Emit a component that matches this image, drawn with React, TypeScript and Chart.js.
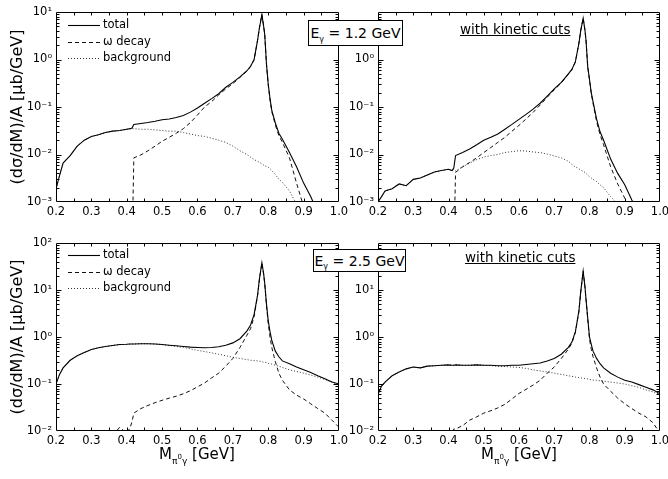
import React, { useEffect, useRef } from "react";
import { Chart, registerables } from "chart.js";

Chart.register(...registerables);

const FONT = "'DejaVu Sans', Verdana, sans-serif";

// invariant mass grid [GeV]
const massGeV = [
  0.2, 0.21, 0.22, 0.24, 0.26, 0.28, 0.3, 0.32, 0.34, 0.36, 0.38, 0.4, 0.41, 0.415, 0.42, 0.44, 0.46, 0.48,
  0.5, 0.52, 0.54, 0.56, 0.58, 0.6, 0.62, 0.64, 0.66, 0.68, 0.7, 0.72, 0.74, 0.75, 0.76, 0.77, 0.775, 0.782,
  0.787, 0.79, 0.795, 0.8, 0.805, 0.81, 0.82, 0.83, 0.84, 0.86, 0.88, 0.9, 0.92, 0.94, 0.96, 0.98, 1.0,
];

// E = 1.2 GeV, no cuts
const total12 = [
  0.0019, 0.0036, 0.0066, 0.0095, 0.015, 0.02, 0.024, 0.026, 0.029, 0.031, 0.032, 0.034, 0.035, 0.036, 0.043, 0.045, 0.047, 0.05,
  0.054, 0.056, 0.06, 0.066, 0.078, 0.095, 0.12, 0.15, 0.19, 0.26, 0.33, 0.43, 0.58, 0.72, 1.0, 2.6, 4.6, 8.8,
  5.0, 3.4, 0.8, 0.3, 0.15, 0.085, 0.046, 0.028, 0.021, 0.011, 0.0055, 0.0025, 0.0013, 0.0006, 0.0003, 0.0002, 0.0001,
];
const omega12 = [
  null, null, null, null, null, null, null, null, null, null, null, null, null, 0.0001, 0.0085, 0.0098, 0.012, 0.015,
  0.019, 0.023, 0.028, 0.035, 0.047, 0.068, 0.1, 0.13, 0.18, 0.24, 0.31, 0.42, 0.57, 0.71, 0.99, 2.6, 4.6, 8.8,
  5.0, 3.4, 0.79, 0.29, 0.14, 0.08, 0.042, 0.025, 0.018, 0.0085, 0.0025, 0.0008, 0.0004, 0.0002, 0.0001, 0.0001, 0.0001,
];
const background12 = [
  0.0019, 0.0036, 0.0066, 0.0095, 0.015, 0.02, 0.024, 0.026, 0.029, 0.031, 0.032, 0.034, 0.035, 0.035, 0.035, 0.034, 0.034, 0.033,
  0.032, 0.031, 0.031, 0.029, 0.027, 0.025, 0.024, 0.022, 0.02, 0.018, 0.015, 0.012, 0.01, 0.0088, 0.0078, 0.0072, 0.0068, 0.0064,
  0.006, 0.0058, 0.0056, 0.0054, 0.005, 0.0046, 0.0038, 0.003, 0.0026, 0.0017, 0.0009, 0.0006, 0.0004, 0.0003, 0.0002, 0.0001, 0.0001,
];

// E = 1.2 GeV, with kinetic cuts
const total12cut = [
  0.001, 0.0013, 0.0017, 0.0019, 0.0024, 0.0022, 0.003, 0.0032, 0.0037, 0.0043, 0.0046, 0.0049, 0.0046, 0.0052, 0.0095, 0.011, 0.013, 0.016,
  0.02, 0.023, 0.027, 0.034, 0.043, 0.055, 0.07, 0.09, 0.12, 0.17, 0.24, 0.33, 0.5, 0.62, 0.9, 2.2, 4.0, 7.4,
  4.2, 2.6, 0.7, 0.38, 0.2, 0.13, 0.056, 0.03, 0.02, 0.008, 0.004, 0.0023, 0.0011, 0.0006, 0.0003, 0.0002, 0.0001,
];
const omega12cut = [
  null, null, null, null, null, null, null, null, null, null, null, null, null, 0.0001, 0.0042, 0.0055, 0.0068, 0.0085,
  0.011, 0.014, 0.018, 0.023, 0.031, 0.041, 0.056, 0.077, 0.11, 0.16, 0.23, 0.32, 0.49, 0.61, 0.89, 2.2, 4.0, 7.4,
  4.2, 2.6, 0.69, 0.37, 0.19, 0.12, 0.05, 0.026, 0.016, 0.0055, 0.0024, 0.0012, 0.0005, 0.0002, 0.0001, 0.0001, 0.0001,
];
const background12cut = [
  0.001, 0.0013, 0.0017, 0.0019, 0.0024, 0.0022, 0.003, 0.0032, 0.0037, 0.0043, 0.0046, 0.0049, 0.0046, 0.0048, 0.0045, 0.0055, 0.0066, 0.0078,
  0.0088, 0.0095, 0.01, 0.011, 0.0115, 0.012, 0.0118, 0.0113, 0.011, 0.0102, 0.0093, 0.0085, 0.0072, 0.0062, 0.0055, 0.005, 0.0047, 0.0044,
  0.0042, 0.004, 0.0037, 0.0034, 0.0032, 0.003, 0.0027, 0.0023, 0.002, 0.0013, 0.0009, 0.0006, 0.0004, 0.0002, 0.0001, 0.0001, 0.0001,
];

// E = 2.5 GeV, no cuts
const total25 = [
  0.1, 0.16, 0.22, 0.32, 0.4, 0.47, 0.54, 0.59, 0.63, 0.66, 0.69, 0.7, 0.71, 0.71, 0.71, 0.72, 0.72, 0.71,
  0.69, 0.67, 0.65, 0.63, 0.61, 0.6, 0.59, 0.6, 0.62, 0.67, 0.75, 0.92, 1.35, 1.8, 3.0, 8.0, 17, 38,
  22, 14, 5, 2.2, 1.3, 0.85, 0.5, 0.38, 0.31, 0.27, 0.23, 0.2, 0.175, 0.15, 0.13, 0.11, 0.1,
];
const omega25 = [
  null, null, null, null, null, null, null, null, null, 0.008, 0.012, 0.009, 0.012, 0.016, 0.024, 0.03, 0.035, 0.04,
  0.045, 0.05, 0.055, 0.062, 0.072, 0.087, 0.105, 0.135, 0.17, 0.24, 0.35, 0.6, 1.1, 1.5, 2.7, 7.7, 16.7, 37.7,
  21.7, 13.7, 4.7, 1.9, 1.0, 0.6, 0.3, 0.17, 0.12, 0.075, 0.058, 0.048, 0.038, 0.03, 0.024, 0.017, 0.012,
];
const background25 = [
  0.1, 0.16, 0.22, 0.32, 0.4, 0.47, 0.54, 0.59, 0.63, 0.66, 0.69, 0.7, 0.71, 0.71, 0.71, 0.72, 0.72, 0.71,
  0.69, 0.66, 0.63, 0.6, 0.56, 0.52, 0.49, 0.46, 0.43, 0.4, 0.37, 0.35, 0.33, 0.32, 0.315, 0.31, 0.305, 0.3,
  0.29, 0.29, 0.285, 0.275, 0.27, 0.265, 0.25, 0.24, 0.225, 0.2, 0.185, 0.17, 0.155, 0.14, 0.125, 0.11, 0.095,
];

// E = 2.5 GeV, with kinetic cuts
const total25cut = [
  0.06, 0.09, 0.11, 0.15, 0.18, 0.21, 0.23, 0.22, 0.24, 0.245, 0.25, 0.255, 0.25, 0.25, 0.255, 0.25, 0.25, 0.255,
  0.25, 0.25, 0.245, 0.245, 0.25, 0.25, 0.26, 0.27, 0.28, 0.31, 0.35, 0.43, 0.6, 0.78, 1.3, 3.6, 9, 25,
  12, 6.5, 2.5, 1.0, 0.7, 0.5, 0.35, 0.27, 0.22, 0.17, 0.14, 0.12, 0.11, 0.097, 0.085, 0.075, 0.062,
];
const omega25cut = [
  null, null, null, null, null, null, null, null, null, null, 0.008, 0.01, 0.009, 0.011, 0.011, 0.013, 0.017, 0.02,
  0.024, 0.027, 0.031, 0.037, 0.048, 0.063, 0.077, 0.095, 0.12, 0.17, 0.23, 0.35, 0.55, 0.74, 1.25, 3.5, 8.9, 24.9,
  11.9, 6.4, 2.4, 0.9, 0.55, 0.38, 0.22, 0.14, 0.1, 0.07, 0.05, 0.038, 0.03, 0.024, 0.02, 0.015, 0.009,
];
const background25cut = [
  0.06, 0.09, 0.11, 0.15, 0.18, 0.21, 0.23, 0.22, 0.24, 0.245, 0.25, 0.255, 0.25, 0.25, 0.255, 0.25, 0.25, 0.255,
  0.25, 0.245, 0.24, 0.235, 0.23, 0.225, 0.215, 0.2, 0.19, 0.18, 0.17, 0.16, 0.15, 0.145, 0.14, 0.137, 0.135, 0.133,
  0.131, 0.13, 0.128, 0.125, 0.123, 0.121, 0.12, 0.117, 0.115, 0.11, 0.105, 0.1, 0.092, 0.085, 0.075, 0.068, 0.06,
];

const seriesLabels = ["total", "ω decay", "background"];
const topDecades = [-3, -2, -1, 0, 1];
const bottomDecades = [-2, -1, 0, 1, 2];
const topRightLabelDecades = [-3, -2, -1, 0];
const bottomRightLabelDecades = [-2, -1, 0, 1];
const xTickStep = 0.05;
const yTitle = "(dσ/dM)/A [μb/GeV]";

const SUP: Record<string, string> = { "-": "⁻", "0": "⁰", "1": "¹", "2": "²", "3": "³", "4": "⁴" };
const supLabel = (e: number) => "10" + String(e).split("").map((c) => SUP[c]).join("");

const isPow10 = (v: number) => {
  const e = Math.round(Math.log10(v));
  return Math.abs(v - Math.pow(10, e)) / Math.pow(10, e) < 1e-6;
};

const framePlugin = {
  id: "frameTicks",
  afterDatasetsDraw(chart: any) {
    const { ctx, chartArea: a, scales } = chart;
    const L = Math.round(a.left) + 0.5;
    const R = Math.round(a.right) - 0.5;
    const T = Math.round(a.top) + 0.5;
    const B = Math.round(a.bottom) - 0.5;
    ctx.save();
    ctx.strokeStyle = "#000";
    ctx.lineWidth = 1;
    ctx.setLineDash([]);
    ctx.beginPath();
    ctx.rect(L, T, R - L, B - T);
    scales.x.ticks.forEach((t: any) => {
      const p = Math.round(scales.x.getPixelForValue(t.value)) + 0.5;
      if (p <= L + 1 || p >= R - 1) return;
      ctx.moveTo(p, B);
      ctx.lineTo(p, B - 3);
      ctx.moveTo(p, T);
      ctx.lineTo(p, T + 3);
    });
    scales.y.ticks.forEach((t: any) => {
      const p = Math.round(scales.y.getPixelForValue(t.value)) + 0.5;
      if (p <= T + 1 || p >= B - 1) return;
      const len = isPow10(t.value) ? 5 : 3;
      ctx.moveTo(L, p);
      ctx.lineTo(L + len, p);
      ctx.moveTo(R, p);
      ctx.lineTo(R - len, p);
    });
    ctx.stroke();
    ctx.restore();
  },
  afterDraw(chart: any) {
    const opts = chart.options.plugins.frameTicks;
    if (!opts || !opts.legend) return;
    const { ctx, chartArea: a } = chart;
    ctx.save();
    chart.data.datasets.forEach((ds: any, i: number) => {
      const y = Math.round(a.top + opts.legendTop + i * 16.5) + 0.5;
      ctx.beginPath();
      ctx.strokeStyle = ds.borderColor;
      ctx.lineWidth = ds.borderWidth;
      ctx.setLineDash(ds.borderDash || []);
      ctx.moveTo(a.left + 12, y);
      ctx.lineTo(a.left + 44, y);
      ctx.stroke();
      ctx.setLineDash([]);
      ctx.fillStyle = "#000";
      ctx.font = `11.5px ${FONT}`;
      ctx.textBaseline = "middle";
      ctx.textAlign = "left";
      ctx.fillText(ds.label, a.left + 47, y);
    });
    ctx.restore();
  },
};

type PanelProps = {
  left: number;
  top: number;
  width: number;
  height: number;
  padTop: number;
  padRight: number;
  yAxisWidth: number;
  xAxisHeight: number;
  decades: number[];
  labelDecades: number[];
  total: (number | null)[];
  omega: (number | null)[];
  background: (number | null)[];
  showTitle: boolean;
  showLegend: boolean;
  legendTop: number;
};

function Panel(p: PanelProps) {
  const ref = useRef<HTMLCanvasElement>(null);
  useEffect(() => {
    const mk = (vals: (number | null)[]) => massGeV.map((x, i) => ({ x, y: vals[i] }));
    const yMin = Math.pow(10, p.decades[0]);
    const yMax = Math.pow(10, p.decades[p.decades.length - 1]);
    const chart = new Chart(ref.current as HTMLCanvasElement, {
      type: "line",
      data: {
        datasets: [
          { label: seriesLabels[0], data: mk(p.total), borderColor: "#000", borderWidth: 1.1, pointRadius: 0, tension: 0, clip: 0 } as any,
          { label: seriesLabels[1], data: mk(p.omega), borderColor: "#111", borderWidth: 1, borderDash: [4, 3], pointRadius: 0, tension: 0, clip: 0 } as any,
          { label: seriesLabels[2], data: mk(p.background), borderColor: "#333", borderWidth: 1, borderDash: [1, 2], pointRadius: 0, tension: 0, clip: 0 } as any,
        ],
      },
      plugins: [framePlugin as any],
      options: {
        animation: false,
        responsive: false,
        devicePixelRatio: 1,
        events: [],
        layout: { padding: { left: 0, top: p.padTop, right: p.padRight, bottom: 0 } },
        plugins: {
          legend: { display: false },
          tooltip: { enabled: false },
          frameTicks: { legend: p.showLegend, legendTop: p.legendTop },
        } as any,
        scales: {
          x: {
            type: "linear",
            min: 0.2,
            max: 1.0,
            grid: { display: false, drawTicks: false },
            border: { display: false },
            ticks: {
              stepSize: xTickStep,
              autoSkip: false,
              maxRotation: 0,
              padding: 3,
              color: "#000",
              font: { family: FONT, size: 11.5 },
              callback: (v: any) => {
                const n = Number(v);
                return Math.abs(n * 10 - Math.round(n * 10)) < 1e-6 ? n.toFixed(1) : "";
              },
            },
            afterFit: (s: any) => {
              s.height = p.xAxisHeight;
              s.paddingLeft = 0;
              s.paddingRight = 0;
            },
          },
          y: {
            type: "logarithmic",
            min: yMin,
            max: yMax,
            grid: { display: false, drawTicks: false },
            border: { display: false },
            title: {
              display: p.showTitle,
              text: yTitle,
              color: "#000",
              font: { family: FONT, size: 16 },
              padding: { top: 8, bottom: 0 },
            },
            afterBuildTicks: (s: any) => {
              const ticks: any[] = [];
              for (let k = 0; k < p.decades.length - 1; k++) {
                for (let m = 1; m <= 9; m++) {
                  ticks.push({ value: Number((m * Math.pow(10, p.decades[k])).toPrecision(3)) });
                }
              }
              ticks.push({ value: yMax });
              s.ticks = ticks;
            },
            ticks: {
              autoSkip: false,
              padding: 4,
              color: "#000",
              font: { family: FONT, size: 11.5 },
              callback: (v: any) => {
                const n = Number(v);
                if (!isPow10(n)) return "";
                const e = Math.round(Math.log10(n));
                return p.labelDecades.includes(e) ? supLabel(e) : "";
              },
            },
            afterFit: (s: any) => {
              s.width = p.yAxisWidth;
              s.paddingTop = 0;
              s.paddingBottom = 0;
            },
          },
        },
      } as any,
    });
    return () => chart.destroy();
  }, []);
  return (
    <div style={{ position: "absolute", left: p.left, top: p.top, width: p.width, height: p.height }}>
      <canvas ref={ref} width={p.width} height={p.height} style={{ width: p.width, height: p.height, display: "block" }} />
    </div>
  );
}

const boxStyle: React.CSSProperties = {
  position: "absolute",
  border: "1px solid #000",
  background: "#fff",
  fontFamily: FONT,
  fontSize: 14,
  color: "#000",
  display: "flex",
  alignItems: "center",
  justifyContent: "center",
  boxSizing: "border-box",
  whiteSpace: "nowrap",
};

const cutsStyle: React.CSSProperties = {
  position: "absolute",
  fontFamily: FONT,
  fontSize: 13.5,
  color: "#000",
  textDecoration: "underline",
  whiteSpace: "nowrap",
};

const xTitleStyle: React.CSSProperties = {
  position: "absolute",
  width: 200,
  textAlign: "center",
  fontFamily: FONT,
  fontSize: 15,
  color: "#000",
  whiteSpace: "nowrap",
};

function XTitle({ center }: { center: number }) {
  return (
    <div style={{ ...xTitleStyle, left: center - 100, top: 445 }}>
      M
      <span style={{ fontSize: 9, position: "relative", top: 5 }}>
        π<span style={{ fontSize: 7, position: "relative", top: -5 }}>0</span>γ
      </span>{" "}
      [GeV]
    </div>
  );
}

function EBox({ left, top, width, height, value }: { left: number; top: number; width: number; height: number; value: string }) {
  return (
    <div style={{ ...boxStyle, left, top, width, height }}>
      E<span style={{ fontSize: 8, position: "relative", top: 6 }}>γ</span>
      &nbsp;= {value}
    </div>
  );
}

export default function App() {
  return (
    <div style={{ position: "absolute", left: 0, top: 0, width: 668, height: 479, background: "#fff", overflow: "hidden" }}>
      <Panel left={0} top={0} width={350} height={232} padTop={12} padRight={11} yAxisWidth={56} xAxisHeight={30}
        decades={topDecades} labelDecades={topDecades} total={total12} omega={omega12} background={background12}
        showTitle={true} showLegend={true} legendTop={13} />
      <Panel left={322} top={0} width={346} height={232} padTop={12} padRight={8} yAxisWidth={56} xAxisHeight={30}
        decades={topDecades} labelDecades={topRightLabelDecades} total={total12cut} omega={omega12cut} background={background12cut}
        showTitle={false} showLegend={false} legendTop={13} />
      <Panel left={0} top={232} width={350} height={247} padTop={11} padRight={11} yAxisWidth={56} xAxisHeight={48}
        decades={bottomDecades} labelDecades={bottomDecades} total={total25} omega={omega25} background={background25}
        showTitle={true} showLegend={true} legendTop={12} />
      <Panel left={322} top={232} width={346} height={247} padTop={11} padRight={8} yAxisWidth={56} xAxisHeight={48}
        decades={bottomDecades} labelDecades={bottomRightLabelDecades} total={total25cut} omega={omega25cut} background={background25cut}
        showTitle={false} showLegend={false} legendTop={12} />

      <EBox left={308} top={20} width={95} height={26} value="1.2 GeV" />
      <EBox left={313} top={249} width={93} height={23} value="2.5 GeV" />
      <div style={{ ...cutsStyle, left: 460, top: 21 }}>with kinetic cuts</div>
      <div style={{ ...cutsStyle, left: 465, top: 249 }}>with kinetic cuts</div>
      <XTitle center={197} />
      <XTitle center={519} />
    </div>
  );
}
